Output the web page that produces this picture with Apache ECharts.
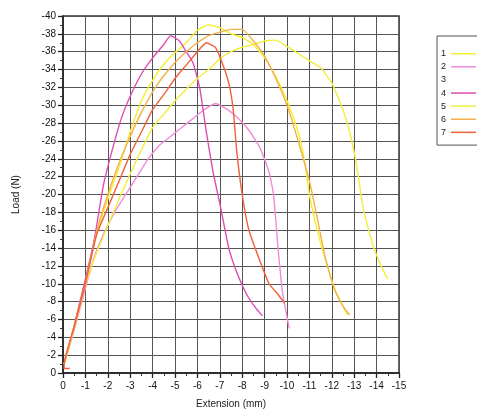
<!DOCTYPE html>
<html>
<head>
<meta charset="utf-8">
<script src="https://cdn.jsdelivr.net/npm/echarts@6/dist/echarts.min.js"></script>
<style>
  html, body { margin: 0; padding: 0; background: #fff; }
  #main { width: 477px; height: 414px; }
</style>
</head>
<body>
<div id="main"></div>
<script>
// extension (mm) and load (N), one pair of arrays per specimen
let ext1 = [-0.05, -0.5, -1, -1.5, -2, -2.5, -3, -3.5, -4, -4.5, -5, -5.5, -6, -6.5, -7, -7.5, -8, -8.5, -9, -9.5, -10, -10.5, -10.8, -11, -11.4, -11.8, -12.2, -12.7];
let load1 = [-1, -5.3, -10.5, -15.5, -19.5, -23, -27, -30.5, -32.8, -34.6, -35.9, -37, -38.4, -39, -38.7, -38, -37.6, -36.8, -35.3, -33.2, -30.5, -27, -23.5, -20, -15.5, -12, -9, -6.5];

let ext2 = [-0.05, -0.5, -1, -1.4, -1.8, -2.3, -2.8, -3.3, -3.8, -4.3, -4.8, -5.3, -5.8, -6.3, -6.8, -7.3, -7.8, -8.3, -8.8, -9.2, -9.4, -9.6, -9.8, -10.1];
let load2 = [-1, -4.8, -9.5, -13, -15.5, -18, -20, -22, -24, -25.5, -26.5, -27.5, -28.5, -29.5, -30.2, -29.6, -28.6, -27.2, -25.2, -22.5, -20, -14, -9, -5];

let ext4 = [-0.05, -0.5, -1, -1.4, -1.8, -2.2, -2.6, -3, -3.5, -4, -4.5, -4.8, -5.2, -5.5, -5.8, -6.1, -6.4, -6.7, -7, -7.4, -7.8, -8.2, -8.6, -8.9];
let load4 = [-1, -5.3, -10.5, -15, -21, -25, -28.5, -31, -33.5, -35.3, -36.8, -37.8, -37.2, -36, -34.8, -32, -27, -22.5, -19, -14, -11, -8.8, -7.3, -6.4];

let ext5 = [-0.05, -0.5, -1, -1.5, -2, -2.5, -3, -3.5, -4, -4.5, -5, -5.5, -6, -6.5, -7, -7.5, -8, -8.5, -9, -9.5, -10, -10.5, -11, -11.5, -12, -12.5, -12.8, -13.1, -13.4, -13.8, -14.2, -14.5];
let load5 = [-1, -5, -9.8, -13.5, -16.5, -19.5, -22.3, -25, -27.5, -29, -30.5, -31.8, -33, -34, -35.2, -36, -36.5, -36.8, -37.2, -37.3, -36.6, -35.8, -35, -34.2, -32.5, -29.5, -27, -23.4, -18.5, -14.6, -12, -10.5];

let ext6 = [-0.05, -0.5, -1, -1.5, -2, -2.5, -3, -3.5, -4, -4.5, -5, -5.5, -6, -6.5, -7, -7.5, -8, -8.5, -9, -9.5, -10, -10.5, -11, -11.3, -11.7, -12.1, -12.5, -12.8];
let load6 = [-1, -5.2, -10, -15.8, -20, -23.5, -26.5, -29.2, -31.5, -33.3, -34.8, -36, -37, -37.8, -38.2, -38.5, -38.5, -37.2, -35.5, -33, -30, -26, -21.5, -18, -13, -9.5, -7.5, -6.5];

// specimen 7 starts with the short flat stub at the origin
let ext7 = [-0.3, -0.05, -0.05, -0.5, -1, -1.5, -2, -2.5, -3, -3.5, -4, -4.5, -5, -5.5, -6, -6.4, -6.8, -7.1, -7.4, -7.6, -7.75, -8, -8.3, -8.8, -9.2, -9.6, -9.9];
let load7 = [-0.5, -0.5, -1, -5.2, -10, -15.5, -18.5, -21.5, -24.5, -27, -29.5, -31.2, -33, -34.5, -36, -37, -36.5, -34.8, -32.5, -29.5, -25, -20, -16, -12.5, -10, -8.8, -7.8];

let xTicks = [0, -1, -2, -3, -4, -5, -6, -7, -8, -9, -10, -11, -12, -13, -14, -15];
let yTicks = [0, -2, -4, -6, -8, -10, -12, -14, -16, -18, -20, -22, -24, -26, -28, -30, -32, -34, -36, -38, -40];

function pairs(xs, ys) {
    let out = [];
    for (let i = 0; i < xs.length; i++) {
        out.push([xs[i], ys[i]]);
    }
    return out;
}

function curve(name, xs, ys, color) {
    return {
        name: name,
        type: 'line',
        data: pairs(xs, ys),
        showSymbol: false,
        smooth: 0.15,
        lineStyle: { color: color, width: 1.4 },
        itemStyle: { color: color },
        animation: false
    };
}

var myChart = echarts.init(document.getElementById('main'));

var option = {
    textStyle: { fontFamily: 'Liberation Sans' },
    grid: {
        left: 63, right: 78, top: 16, bottom: 34,
        show: true, borderColor: '#333', borderWidth: 1.5
    },
    legend: {
        orient: 'vertical',
        left: 437, top: 36,
        align: 'right',
        icon: 'rect',
        itemWidth: 25, itemHeight: 1.5,
        itemGap: 1.6,
        padding: [12, 40, 7, 4],
        borderColor: '#555', borderWidth: 1,
        textStyle: { fontSize: 9, color: '#222', lineHeight: 11.5 },
        data: ['1', '2', '3', '4', '5', '6', '7']
    },
    xAxis: {
        type: 'value',
        min: -15, max: 0, interval: 1,
        inverse: true,
        name: 'Extension (mm)',
        nameLocation: 'middle',
        nameGap: 26,
        nameTextStyle: { fontSize: 10, color: '#222' },
        axisLine: { lineStyle: { color: '#222', width: 1.5 } },
        axisTick: { show: true, inside: false, length: 5, lineStyle: { color: '#222', width: 1.3 } },
        minorTick: { show: true, splitNumber: 2, length: 3, lineStyle: { color: '#333' } },
        axisLabel: { fontSize: 10, color: '#111', margin: 8,
            formatter: function (v) { return xTicks.indexOf(v) >= 0 ? String(v) : ''; } },
        splitLine: { show: true, lineStyle: { color: '#555', width: 1 } }
    },
    yAxis: {
        type: 'value',
        min: -40, max: 0, interval: 2,
        inverse: true,
        name: 'Load (N)',
        nameLocation: 'middle',
        nameGap: 42,
        nameTextStyle: { fontSize: 10, color: '#222' },
        axisLine: { lineStyle: { color: '#222', width: 1.5 } },
        axisTick: { show: true, inside: false, length: 5, lineStyle: { color: '#222', width: 1.3 } },
        minorTick: { show: true, splitNumber: 2, length: 3, lineStyle: { color: '#333' } },
        axisLabel: { fontSize: 10, color: '#111', margin: 7,
            formatter: function (v) { return yTicks.indexOf(v) >= 0 ? String(v) : ''; } },
        splitLine: { show: true, lineStyle: { color: '#555', width: 1 } }
    },
    series: [
        curve('1', ext1, load1, '#f4ef2c'),
        curve('2', ext2, load2, '#f28ad8'),
        { name: '3', type: 'line', data: [], itemStyle: { color: 'rgba(0,0,0,0)' }, lineStyle: { color: 'rgba(0,0,0,0)' } },
        curve('4', ext4, load4, '#e04cb0'),
        curve('5', ext5, load5, '#f1ee3c'),
        curve('6', ext6, load6, '#f5b04c'),
        curve('7', ext7, load7, '#f0603a')
    ]
};

myChart.setOption(option);
</script>
</body>
</html>
